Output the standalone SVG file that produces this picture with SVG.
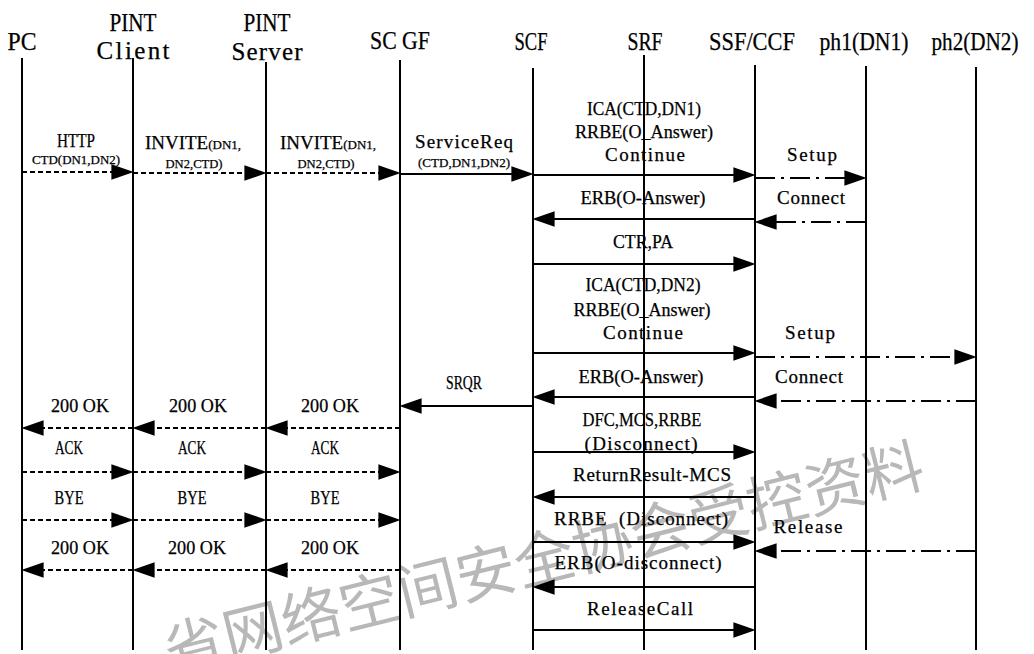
<svg xmlns="http://www.w3.org/2000/svg" width="1034" height="654" viewBox="0 0 1034 654">
<style>
text { font-family: "Liberation Serif", "Times New Roman", serif; fill: #000; stroke: #000; stroke-width: 0.25px; text-anchor: middle; }
.h { font-size: 25px; }
.b { font-size: 19px; }
.s { font-size: 13px; }
.sm { font-size: 13px; }
.life { stroke: #000; stroke-width: 2; }
.msg { stroke: #000; stroke-width: 2; fill: none; marker-end: url(#ah); }
.dsh { stroke-dasharray: 5 3; }
.dd { stroke-dasharray: 20 6 3 6; }
.wm { font-family: "Noto Sans CJK SC", sans-serif; font-size: 60px; fill: #b8b8b8; stroke: none; text-anchor: end; }
</style>
<defs>
<marker id="ah" markerUnits="userSpaceOnUse" markerWidth="22" markerHeight="16" viewBox="0 0 21 15" refX="13" refY="7.5" orient="auto">
<path d="M0,0 L21,7.5 L0,15 z" fill="#000"/>
</marker>
</defs>
<rect width="1034" height="654" fill="#fff"/>

<g id="watermark" transform="translate(893,470) rotate(-14)">
<text class="wm" x="30" y="23">省网络空间安全协会受控资料</text>
</g>

<g id="node-pc">
<text class="h" x="22" y="50.3" textLength="29" lengthAdjust="spacingAndGlyphs">PC</text>
<line class="life" x1="22" y1="58" x2="22" y2="650"/>
</g>
<g id="node-pint-client">
<text class="h" x="133" y="30.8" textLength="47" lengthAdjust="spacingAndGlyphs">PINT</text>
<text class="h" x="133" y="59.3" textLength="73" lengthAdjust="spacing">Client</text>
<line class="life" x1="133" y1="58" x2="133" y2="650"/>
</g>
<g id="node-pint-server">
<text class="h" x="267" y="30.8" textLength="47" lengthAdjust="spacingAndGlyphs">PINT</text>
<text class="h" x="267" y="59.8" textLength="71" lengthAdjust="spacing">Server</text>
<line class="life" x1="266" y1="62" x2="266" y2="650"/>
</g>
<g id="node-scgf">
<text class="h" x="400" y="49.3" textLength="60" lengthAdjust="spacingAndGlyphs">SC GF</text>
<line class="life" x1="400" y1="60" x2="400" y2="650"/>
</g>
<g id="node-scf">
<text class="h" x="531" y="49.8" textLength="33" lengthAdjust="spacingAndGlyphs">SCF</text>
<line class="life" x1="533" y1="68" x2="533" y2="650"/>
</g>
<g id="node-srf">
<text class="h" x="645" y="49.8" textLength="35" lengthAdjust="spacingAndGlyphs">SRF</text>
<line class="life" x1="644" y1="55" x2="644" y2="650"/>
</g>
<g id="node-ssf-ccf">
<text class="h" x="752" y="49.8" textLength="86" lengthAdjust="spacingAndGlyphs">SSF/CCF</text>
<line class="life" x1="755" y1="65" x2="755" y2="650"/>
</g>
<g id="node-ph1">
<text class="h" x="864" y="49.8" textLength="89" lengthAdjust="spacingAndGlyphs">ph1(DN1)</text>
<line class="life" x1="866" y1="66" x2="866" y2="650"/>
</g>
<g id="node-ph2">
<text class="h" x="975" y="49.8" textLength="87" lengthAdjust="spacingAndGlyphs">ph2(DN2)</text>
<line class="life" x1="976" y1="67" x2="976" y2="650"/>
</g>

<g id="connectors">
<line class="msg dsh" x1="22" y1="172" x2="125" y2="172"/>
<line class="msg dsh" x1="133" y1="173" x2="258" y2="173"/>
<line class="msg dsh" x1="266" y1="173" x2="392" y2="173"/>
<line class="msg" x1="400" y1="174" x2="525" y2="174"/>
<line class="msg" x1="533" y1="175" x2="747" y2="175"/>
<line class="msg dd" x1="755" y1="178" x2="858" y2="178"/>
<line class="msg" x1="755" y1="219" x2="541" y2="219"/>
<line class="msg dd" x1="866" y1="222" x2="763" y2="222"/>
<line class="msg" x1="533" y1="264" x2="747" y2="264"/>
<line class="msg" x1="533" y1="353" x2="747" y2="353"/>
<line class="msg dd" x1="755" y1="357" x2="968" y2="357"/>
<line class="msg" x1="755" y1="397" x2="541" y2="397"/>
<line class="msg dd" x1="976" y1="401" x2="763" y2="401"/>
<line class="msg" x1="533" y1="406" x2="408" y2="406"/>
<line class="msg dsh" x1="400" y1="428" x2="274" y2="428"/>
<line class="msg dsh" x1="266" y1="428" x2="141" y2="428"/>
<line class="msg dsh" x1="133" y1="428" x2="30" y2="428"/>
<line class="msg dsh" x1="22" y1="472" x2="125" y2="472"/>
<line class="msg dsh" x1="133" y1="472" x2="258" y2="472"/>
<line class="msg dsh" x1="266" y1="472" x2="392" y2="472"/>
<line class="msg dsh" x1="22" y1="520" x2="125" y2="520"/>
<line class="msg dsh" x1="133" y1="520" x2="258" y2="520"/>
<line class="msg dsh" x1="266" y1="520" x2="392" y2="520"/>
<line class="msg dsh" x1="400" y1="570" x2="274" y2="570"/>
<line class="msg dsh" x1="266" y1="570" x2="141" y2="570"/>
<line class="msg dsh" x1="133" y1="570" x2="30" y2="570"/>
<line class="msg" x1="533" y1="452" x2="747" y2="452"/>
<line class="msg" x1="755" y1="497" x2="541" y2="497"/>
<line class="msg" x1="533" y1="542" x2="747" y2="542"/>
<line class="msg dd" x1="976" y1="551" x2="763" y2="551"/>
<line class="msg" x1="755" y1="587" x2="541" y2="587"/>
<line class="msg" x1="533" y1="630" x2="747" y2="630"/>

<text class="b" x="76" y="147.3" textLength="38" lengthAdjust="spacingAndGlyphs">HTTP</text>
<text class="s" x="76" y="164.3" textLength="88" lengthAdjust="spacingAndGlyphs">CTD(DN1,DN2)</text>
<text class="b" x="193" y="149.3">INVITE<tspan class="sm">(DN1,</tspan></text>
<text class="s" x="194" y="168.3" textLength="57" lengthAdjust="spacingAndGlyphs">DN2,CTD)</text>
<text class="b" x="328" y="149.3">INVITE<tspan class="sm">(DN1,</tspan></text>
<text class="s" x="326" y="168.3" textLength="57" lengthAdjust="spacingAndGlyphs">DN2,CTD)</text>
<text class="b" x="464" y="148.3" textLength="98" lengthAdjust="spacing">ServiceReq</text>
<text class="s" x="464" y="167.3" textLength="92" lengthAdjust="spacingAndGlyphs">(CTD,DN1,DN2)</text>

<text class="b" x="644" y="115.3" textLength="114" lengthAdjust="spacingAndGlyphs">ICA(CTD,DN1)</text>
<text class="b" x="644" y="137.8" textLength="138" lengthAdjust="spacingAndGlyphs">RRBE(O_Answer)</text>
<text class="b" x="645" y="160.8" textLength="80" lengthAdjust="spacing">Continue</text>
<text class="b" x="812" y="161.3" textLength="50" lengthAdjust="spacing">Setup</text>
<text class="b" x="643" y="204.3" textLength="125" lengthAdjust="spacingAndGlyphs">ERB(O-Answer)</text>
<text class="b" x="811" y="204.3" textLength="68" lengthAdjust="spacing">Connect</text>
<text class="b" x="643" y="248.3" textLength="60" lengthAdjust="spacingAndGlyphs">CTR,PA</text>

<text class="b" x="643" y="291.3" textLength="115" lengthAdjust="spacingAndGlyphs">ICA(CTD,DN2)</text>
<text class="b" x="642" y="316.3" textLength="137" lengthAdjust="spacingAndGlyphs">RRBE(O_Answer)</text>
<text class="b" x="643" y="339.3" textLength="80" lengthAdjust="spacing">Continue</text>
<text class="b" x="810" y="339.3" textLength="50" lengthAdjust="spacing">Setup</text>
<text class="b" x="641" y="383.3" textLength="125" lengthAdjust="spacingAndGlyphs">ERB(O-Answer)</text>
<text class="b" x="809" y="383.3" textLength="68" lengthAdjust="spacing">Connect</text>
<text class="b" x="464" y="389.3" textLength="36" lengthAdjust="spacingAndGlyphs">SRQR</text>

<text class="b" x="80" y="412.3" textLength="58" lengthAdjust="spacingAndGlyphs">200 OK</text>
<text class="b" x="198" y="412.3" textLength="58" lengthAdjust="spacingAndGlyphs">200 OK</text>
<text class="b" x="330" y="412.3" textLength="58" lengthAdjust="spacingAndGlyphs">200 OK</text>
<text class="b" x="69" y="454.3" textLength="28" lengthAdjust="spacingAndGlyphs">ACK</text>
<text class="b" x="192" y="454.3" textLength="28" lengthAdjust="spacingAndGlyphs">ACK</text>
<text class="b" x="325" y="454.3" textLength="28" lengthAdjust="spacingAndGlyphs">ACK</text>
<text class="b" x="69" y="504.3" textLength="29" lengthAdjust="spacingAndGlyphs">BYE</text>
<text class="b" x="192" y="504.3" textLength="29" lengthAdjust="spacingAndGlyphs">BYE</text>
<text class="b" x="325" y="504.3" textLength="29" lengthAdjust="spacingAndGlyphs">BYE</text>
<text class="b" x="80" y="554.3" textLength="58" lengthAdjust="spacingAndGlyphs">200 OK</text>
<text class="b" x="197" y="554.3" textLength="58" lengthAdjust="spacingAndGlyphs">200 OK</text>
<text class="b" x="330" y="554.3" textLength="58" lengthAdjust="spacingAndGlyphs">200 OK</text>

<text class="b" x="642" y="426.3" textLength="119" lengthAdjust="spacingAndGlyphs">DFC,MCS,RRBE</text>
<text class="b" x="641" y="450.3" textLength="113" lengthAdjust="spacing">(Disconnect)</text>
<text class="b" x="652" y="481.3" textLength="158" lengthAdjust="spacing">ReturnResult-MCS</text>
<text class="b" x="641" y="525.3" textLength="174" lengthAdjust="spacing" style="white-space:pre">RRBE  (Disconnect)</text>
<text class="b" x="808" y="533.3" textLength="69" lengthAdjust="spacing">Release</text>
<text class="b" x="638" y="569.3" textLength="167" lengthAdjust="spacing">ERB(O-disconnect)</text>
<text class="b" x="640" y="615.3" textLength="106" lengthAdjust="spacing">ReleaseCall</text>
</g>
</svg>
